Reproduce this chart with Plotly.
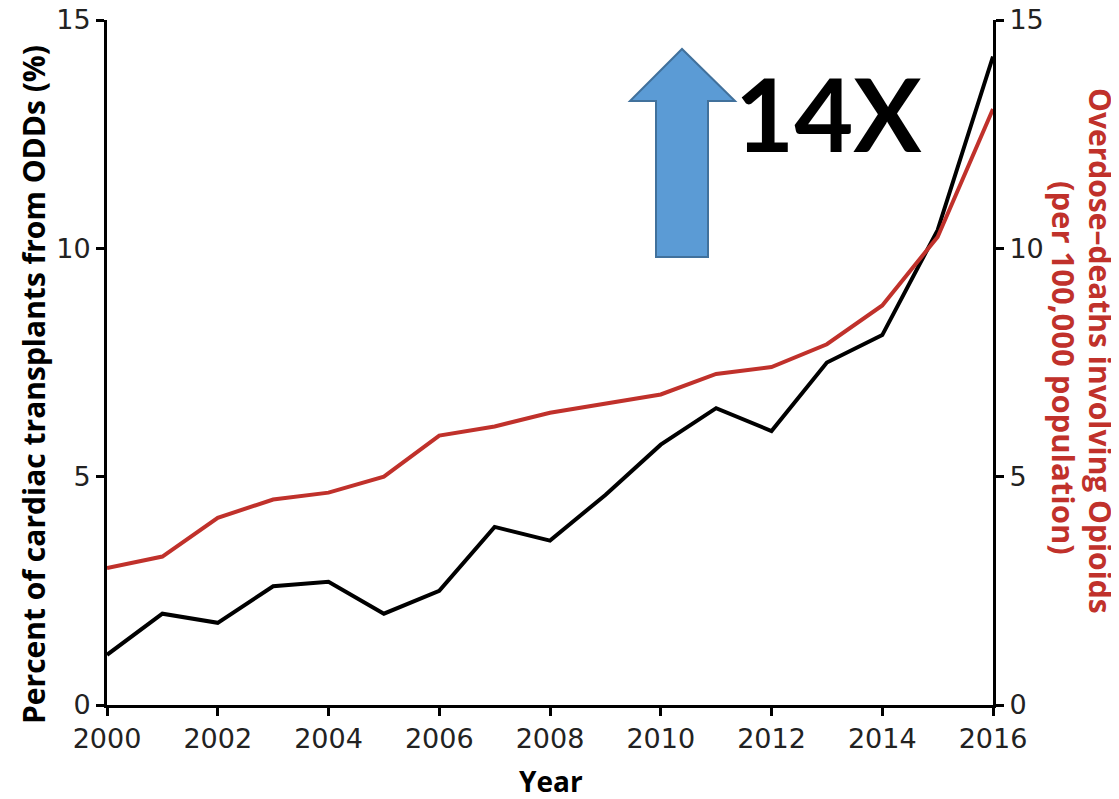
import plotly.graph_objects as go

years = list(range(2000, 2017))
odd_transplant_pct = [1.1, 2.0, 1.8, 2.6, 2.7, 2.0, 2.5, 3.9, 3.6, 4.6, 5.7, 6.5, 6.0, 7.5, 8.1, 10.4, 14.2]
opioid_deaths = [3.0, 3.25, 4.1, 4.5, 4.65, 5.0, 5.9, 6.1, 6.4, 6.6, 6.8, 7.25, 7.4, 7.9, 8.75, 10.25, 13.05]
x_ticks = [2000, 2002, 2004, 2006, 2008, 2010, 2012, 2014, 2016]
y_ticks = [0, 5, 10, 15]

RED = "#c0312b"
TICKFONT = dict(family="DejaVu Sans", size=27, color="#222222")
TITLEFONT = "Open Sans"

# page body has an 8px margin; plot area should land at screen x 107..993, y 20..705
BODY = 8
PL, PR, PT, PB = 107, 993, 20, 705
W, H = 1119 - BODY, 799 - BODY

fig = go.Figure()
fig.add_trace(go.Scatter(x=years, y=odd_transplant_pct, mode="lines",
                         line=dict(color="black", width=4), yaxis="y", cliponaxis=False))
fig.add_trace(go.Scatter(x=years, y=opioid_deaths, mode="lines",
                         line=dict(color=RED, width=4), yaxis="y2", cliponaxis=False))

axis_common = dict(showgrid=False, zeroline=False, showline=True, linecolor="black",
                   linewidth=3, ticks="outside", ticklen=8, tickwidth=2.5, tickcolor="black",
                   tickfont=TICKFONT, ticklabeloverflow="allow", automargin=False)

fig.update_layout(
    width=W, height=H,
    margin=dict(l=PL - BODY, r=W - (PR - BODY), t=PT - BODY, b=H - (PB - BODY), pad=0,
                autoexpand=False),
    paper_bgcolor="white", plot_bgcolor="white",
    showlegend=False,
    xaxis=dict(range=[2000, 2016], tickvals=x_ticks, **axis_common),
    yaxis=dict(range=[0, 15], tickvals=y_ticks, **axis_common),
    yaxis2=dict(range=[0, 15], tickvals=y_ticks, overlaying="y", side="right", **axis_common),
)


def px(xs):
    return (xs - PL) / (PR - PL)


def py(ys):
    return (PB - ys) / (PB - PT)


def note(text, xs, ys, size, color, angle=0, family=TITLEFONT):
    fig.add_annotation(text=text, xref="paper", yref="paper", x=px(xs), y=py(ys),
                       xanchor="center", yanchor="middle", textangle=angle, showarrow=False,
                       font=dict(family=family, size=size, color=color))


# Axis titles
note("<b>Percent of cardiac transplants from ODDs (%)</b>", 33, 385, 30, "black", -90)
note("<b>Year</b>", 551, 781, 28, "black")
note("<b>Overdose\u2013deaths involving Opioids</b>", 1101, 351, 30, RED, 90)
note("<b>(per 100,000 population)</b>", 1064, 368, 31, RED, 90)

# Blue block arrow
arrow_path = (f"M {px(656)} {py(257)} L {px(656)} {py(101)} L {px(630)} {py(101)} "
              f"L {px(682)} {py(49)} L {px(735)} {py(101)} L {px(708)} {py(101)} "
              f"L {px(708)} {py(257)} Z")
fig.add_shape(type="path", path=arrow_path, xref="paper", yref="paper",
              fillcolor="#5b9bd5", line=dict(color="#41719c", width=2))

note("<b>14X</b>", 828, 113, 102, "black", 0, "Lato")

fig.write_html("out.html")
